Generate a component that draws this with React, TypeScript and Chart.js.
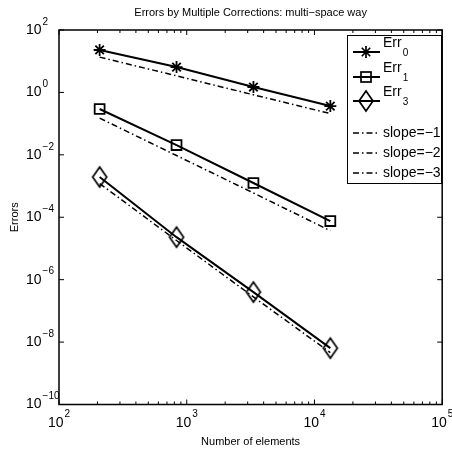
import React, { useEffect, useRef } from "react";
import { Chart, registerables } from "chart.js";
Chart.register(...registerables);

const FONT = '"Liberation Sans", Arial, Helvetica, sans-serif';

const titleText = "Errors by Multiple Corrections: multi\u2212space way";
const xTitle = "Number of elements";
const yTitle = "Errors";

const elements = [208, 832, 3328, 13312];
const err0 = [22.9, 6.5, 1.49, 0.366];
const err1 = [0.294, 0.0206, 0.00125, 7.55e-5];
const err3 = [1.94e-3, 2.3e-5, 4.0e-7, 6.4e-9];
const slope1 = [13.5, 3.4, 0.84, 0.21];
const slope2 = [0.15, 0.0095, 6e-4, 3.7e-5];
const slope3 = [1.2e-3, 1.8e-5, 2.8e-7, 4.6e-9];

const xTickValues = [1e2, 1e3, 1e4, 1e5];
const xTickExps = ["2", "3", "4", "5"];
const yTickValues = [1e2, 1e0, 1e-2, 1e-4, 1e-6, 1e-8, 1e-10];
const yTickExps = ["2", "0", "\u22122", "\u22124", "\u22126", "\u22128", "\u221210"];

const seriesNames = ["Err", "Err", "Err"];
const seriesSubs = ["0", "1", "3"];
const slopeNames = ["slope=\u22121", "slope=\u22122", "slope=\u22123"];

const DASHDOT = [6, 3, 1.5, 3];

function makeDiamond(w: number, h: number, lw: number) {
  const c = document.createElement("canvas");
  c.width = w + 4;
  c.height = h + 4;
  const g = c.getContext("2d")!;
  g.strokeStyle = "#000";
  g.lineWidth = lw;
  g.beginPath();
  g.moveTo(c.width / 2, 2);
  g.lineTo(c.width - 2, c.height / 2);
  g.lineTo(c.width / 2, c.height - 2);
  g.lineTo(2, c.height / 2);
  g.closePath();
  g.stroke();
  return c;
}

function drawStar(ctx: CanvasRenderingContext2D, x: number, y: number, r: number) {
  ctx.beginPath();
  for (let i = 0; i < 4; i++) {
    const a = (i * Math.PI) / 4;
    ctx.moveTo(x - Math.cos(a) * r, y - Math.sin(a) * r);
    ctx.lineTo(x + Math.cos(a) * r, y + Math.sin(a) * r);
  }
  ctx.stroke();
}

const overlay = {
  id: "matlabOverlay",
  afterDraw(chart: any) {
    const ctx: CanvasRenderingContext2D = chart.ctx;
    const a = chart.chartArea;
    const xs = chart.scales.x;
    const ys = chart.scales.y;
    ctx.save();
    ctx.strokeStyle = "#000";
    ctx.fillStyle = "#000";
    ctx.setLineDash([]);
    ctx.lineWidth = 1;
    for (let d = 2; d <= 5; d++) {
      const px = xs.getPixelForValue(Math.pow(10, d));
      ctx.beginPath();
      ctx.moveTo(px, a.bottom);
      ctx.lineTo(px, a.bottom - 5);
      ctx.moveTo(px, a.top);
      ctx.lineTo(px, a.top + 5);
      ctx.stroke();
      if (d < 5) {
        for (let k = 2; k <= 9; k++) {
          const qx = xs.getPixelForValue(k * Math.pow(10, d));
          ctx.beginPath();
          ctx.moveTo(qx, a.bottom);
          ctx.lineTo(qx, a.bottom - 3);
          ctx.moveTo(qx, a.top);
          ctx.lineTo(qx, a.top + 3);
          ctx.stroke();
        }
      }
    }
    for (const v of yTickValues) {
      const py = ys.getPixelForValue(v);
      ctx.beginPath();
      ctx.moveTo(a.left, py);
      ctx.lineTo(a.left + 5, py);
      ctx.moveTo(a.right, py);
      ctx.lineTo(a.right - 5, py);
      ctx.stroke();
    }
    ctx.lineWidth = 1.5;
    ctx.strokeRect(a.left, a.top, a.right - a.left, a.bottom - a.top);

    ctx.textBaseline = "middle";
    ctx.textAlign = "left";
    xTickValues.forEach((v, i) => {
      const px = xs.getPixelForValue(v);
      ctx.font = `14px ${FONT}`;
      const w10 = ctx.measureText("10").width;
      ctx.font = `10px ${FONT}`;
      const we = ctx.measureText(xTickExps[i]).width;
      const start = px - (w10 + we + 1) / 2;
      ctx.font = `14px ${FONT}`;
      ctx.fillText("10", start, a.bottom + 19);
      ctx.font = `10px ${FONT}`;
      ctx.fillText(xTickExps[i], start + w10 + 1, a.bottom + 10);
    });
    yTickValues.forEach((v, i) => {
      const py = ys.getPixelForValue(v);
      ctx.font = `14px ${FONT}`;
      const w10 = ctx.measureText("10").width;
      ctx.fillText("10", 26, py);
      ctx.font = `10px ${FONT}`;
      ctx.fillText(yTickExps[i], 26 + w10 + 1, py - 8);
    });

    ctx.textAlign = "center";
    ctx.font = `11px ${FONT}`;
    const cx = (a.left + a.right) / 2;
    ctx.fillText(titleText, cx, 13);
    ctx.fillText(xTitle, cx, 442);
    ctx.save();
    ctx.translate(15, (a.top + a.bottom) / 2);
    ctx.rotate(-Math.PI / 2);
    ctx.fillText(yTitle, 0, 0);
    ctx.restore();

    const L = 347, T = 35, R = 441, B = 183;
    ctx.fillStyle = "#fff";
    ctx.fillRect(L, T, R - L, B - T);
    ctx.strokeStyle = "#000";
    ctx.lineWidth = 1;
    ctx.strokeRect(L + 0.5, T + 0.5, R - L, B - T);
    ctx.fillStyle = "#000";
    const lx0 = 353, lx1 = 380, mx = 366, tx = 383;
    const rowY = [52, 77, 101];
    rowY.forEach((y, i) => {
      ctx.lineWidth = 2;
      ctx.setLineDash([]);
      ctx.beginPath();
      ctx.moveTo(lx0, y);
      ctx.lineTo(lx1, y);
      ctx.stroke();
      ctx.lineWidth = 1.7;
      if (i === 0) drawStar(ctx, mx, y, 6);
      else if (i === 1) ctx.strokeRect(mx - 5, y - 5, 10, 10);
      else {
        ctx.beginPath();
        ctx.moveTo(mx, y - 10);
        ctx.lineTo(mx + 7, y);
        ctx.lineTo(mx, y + 10);
        ctx.lineTo(mx - 7, y);
        ctx.closePath();
        ctx.stroke();
      }
      ctx.textAlign = "left";
      ctx.font = `14px ${FONT}`;
      ctx.fillText(seriesNames[i], tx, y - 9);
      const w = ctx.measureText(seriesNames[i]).width;
      ctx.font = `10px ${FONT}`;
      ctx.fillText(seriesSubs[i], tx + w + 1, y + 1);
    });
    const sY = [133, 153, 173];
    sY.forEach((y, i) => {
      ctx.lineWidth = 1.5;
      ctx.setLineDash(DASHDOT);
      ctx.beginPath();
      ctx.moveTo(lx0, y);
      ctx.lineTo(lx1, y);
      ctx.stroke();
      ctx.setLineDash([]);
      ctx.font = `14px ${FONT}`;
      ctx.fillText(slopeNames[i], tx, y);
    });
    ctx.restore();
  },
};

export default function App() {
  const ref = useRef<HTMLCanvasElement | null>(null);
  useEffect(() => {
    if (!ref.current) return;
    const diamond = makeDiamond(14, 20, 1.7);
    const pts = (ys: number[]) => elements.map((x, i) => ({ x, y: ys[i] }));
    const solid = (data: number[], style: any, radius: number) => ({
      data: pts(data),
      borderColor: "#000",
      borderWidth: 2,
      pointStyle: style,
      pointRadius: radius,
      pointBorderColor: "#000",
      pointBackgroundColor: "rgba(0,0,0,0)",
      pointBorderWidth: 1.8,
      showLine: true,
      fill: false,
      tension: 0,
    });
    const dd = (data: number[]) => ({
      data: pts(data),
      borderColor: "#000",
      borderWidth: 1.5,
      borderDash: DASHDOT,
      pointRadius: 0,
      showLine: true,
      fill: false,
      tension: 0,
    });
    const chart = new Chart(ref.current, {
      type: "line",
      data: {
        datasets: [
          dd(slope1),
          dd(slope2),
          dd(slope3),
          solid(err0, "star", 6),
          solid(err1, "rect", 7),
          solid(err3, diamond, 8),
        ] as any,
      },
      options: {
        animation: false,
        responsive: false,
        maintainAspectRatio: false,
        devicePixelRatio: 1,
        layout: { padding: { left: 59, right: 6.5, top: 30, bottom: 46.5 } },
        plugins: { legend: { display: false }, title: { display: false }, tooltip: { enabled: false } },
        scales: {
          x: { type: "logarithmic", min: 1e2, max: 1e5, display: false },
          y: { type: "logarithmic", min: 1e-10, max: 1e2, display: false },
        },
      },
      plugins: [overlay],
    });
    return () => chart.destroy();
  }, []);
  return (
    <div style={{ position: "fixed", left: 0, top: 0, width: 452, height: 451, background: "#fff" }}>
      <canvas ref={ref} width={452} height={451} style={{ width: 452, height: 451, display: "block" }} />
    </div>
  );
}
